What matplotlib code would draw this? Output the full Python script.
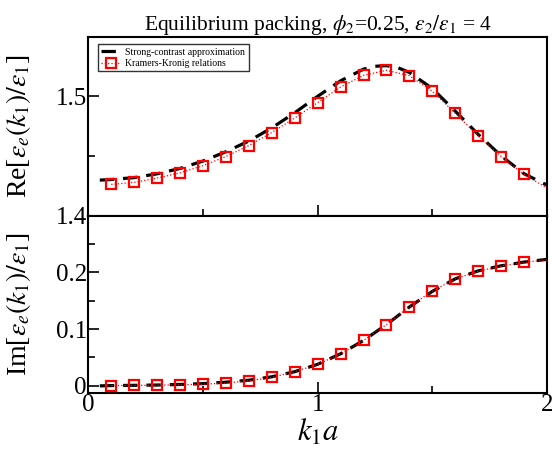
import numpy as np
import matplotlib
matplotlib.use("Agg")
import matplotlib.pyplot as plt
from matplotlib.ticker import MultipleLocator

plt.rcParams['font.family'] = ['Liberation Serif', 'DejaVu Serif']
plt.rcParams['mathtext.fontset'] = 'stix'

# strong-contrast approximation (dashed curve)
k_sc = [0.05, 0.1, 0.2, 0.3, 0.4, 0.5, 0.6, 0.7, 0.8, 0.9, 1.0, 1.1, 1.2,
        1.25, 1.3, 1.35, 1.4, 1.5, 1.6, 1.7, 1.8, 1.9, 2.0]
re_sc = [1.4297, 1.4302, 1.4318, 1.4350, 1.4395, 1.4457, 1.4535, 1.4625,
         1.4735, 1.4862, 1.5000, 1.5130, 1.5228, 1.5252, 1.5257, 1.5240,
         1.5200, 1.5065, 1.4875, 1.4680, 1.4500, 1.4350, 1.4255]
im_sc = [0.0, 0.0005, 0.001, 0.0015, 0.0025, 0.004, 0.0065, 0.010, 0.016,
         0.025, 0.038, 0.0565, 0.080, 0.094, 0.108, 0.1235, 0.139, 0.1665,
         0.1885, 0.2025, 0.2115, 0.2180, 0.2228]

# Kramers-Kronig relations (squares); last value only continues the dotted line
k_kk = [0.1, 0.2, 0.3, 0.4, 0.5, 0.6, 0.7, 0.8, 0.9, 1.0, 1.1, 1.2, 1.3,
        1.4, 1.5, 1.6, 1.7, 1.8, 1.9, 2.0]
re_kk = [1.4261, 1.4278, 1.4314, 1.4358, 1.4418, 1.4495, 1.4587, 1.4696,
         1.4818, 1.4947, 1.5078, 1.5176, 1.5218, 1.5173, 1.5042, 1.4858,
         1.4668, 1.4495, 1.4345, 1.4230]
im_kk = [0.0005, 0.0008, 0.0012, 0.002, 0.003, 0.005, 0.009, 0.015, 0.025,
         0.038, 0.0564, 0.080, 0.108, 0.1396, 0.167, 0.1885, 0.202, 0.211,
         0.2176, 0.2220]

fig = plt.figure(figsize=(5.52, 4.57), dpi=100)
ax1 = fig.add_axes([0.160, 0.5284, 0.831, 0.3913])
ax2 = fig.add_axes([0.160, 0.1407, 0.831, 0.3877])

n_mark = len(k_kk) - 1
for ax, ysc, ykk in [(ax1, re_sc, re_kk), (ax2, im_sc, im_kk)]:
    ax.plot(k_sc, ysc, color='black', lw=2.3, ls=(0, (4.5, 2.8)),
            label='Strong-contrast approximation', zorder=2)
    ax.plot(k_kk, ykk, color='red', lw=0.9, ls=':', marker='s', ms=6.5,
            mfc='none', mec='red', mew=1.6, markevery=list(range(n_mark)),
            label='Kramers-Kronig relations', zorder=3)
    ax.set_xlim(0, 2)
    ax.xaxis.set_major_locator(MultipleLocator(1))
    ax.xaxis.set_minor_locator(MultipleLocator(0.5))
    ax.yaxis.set_major_locator(MultipleLocator(0.1))
    ax.yaxis.set_minor_locator(MultipleLocator(0.05))
    ax.tick_params(which='both', direction='in', top=False, right=False,
                   labelsize=18, width=1.2, pad=1)
    ax.tick_params(which='major', length=8)
    ax.tick_params(which='minor', length=5)
    for s in ax.spines.values():
        s.set_linewidth(1.5)

ax1.set_ylim(1.4, 1.55)
ax1.set_yticks([1.4, 1.5])
ax1.tick_params(labelbottom=False)
ax2.set_ylim(-0.012, 0.3)
ax2.set_yticks([0, 0.1, 0.2])
ax2.yaxis.set_major_formatter(plt.FuncFormatter(lambda v, p: f"{v:g}"))
ax2.xaxis.set_major_formatter(plt.FuncFormatter(lambda v, p: f"{v:g}"))

ax1.set_ylabel(r'Re[$\varepsilon_e(k_1)/\varepsilon_1$]', fontsize=20)
ax2.set_ylabel(r'Im[$\varepsilon_e(k_1)/\varepsilon_1$]', fontsize=20)
ax1.yaxis.set_label_coords(-0.12, 0.5)
ax2.yaxis.set_label_coords(-0.12, 0.5)
ax2.set_xlabel(r'$k_1a$', fontsize=22, labelpad=1)

ax1.set_title(r'Equilibrium packing, $\phi_2$=0.25, $\varepsilon_2/\varepsilon_1$ = 4',
              fontsize=15.5, pad=5)

leg = ax1.legend(loc='upper left', fontsize=7, frameon=True, fancybox=False,
                 edgecolor='black', handlelength=2.0, borderpad=0.35,
                 labelspacing=0.25, handletextpad=0.5,
                 bbox_to_anchor=(0.01, 0.985))
leg.get_frame().set_linewidth(1.0)

fig.savefig('out.png', dpi=100)
